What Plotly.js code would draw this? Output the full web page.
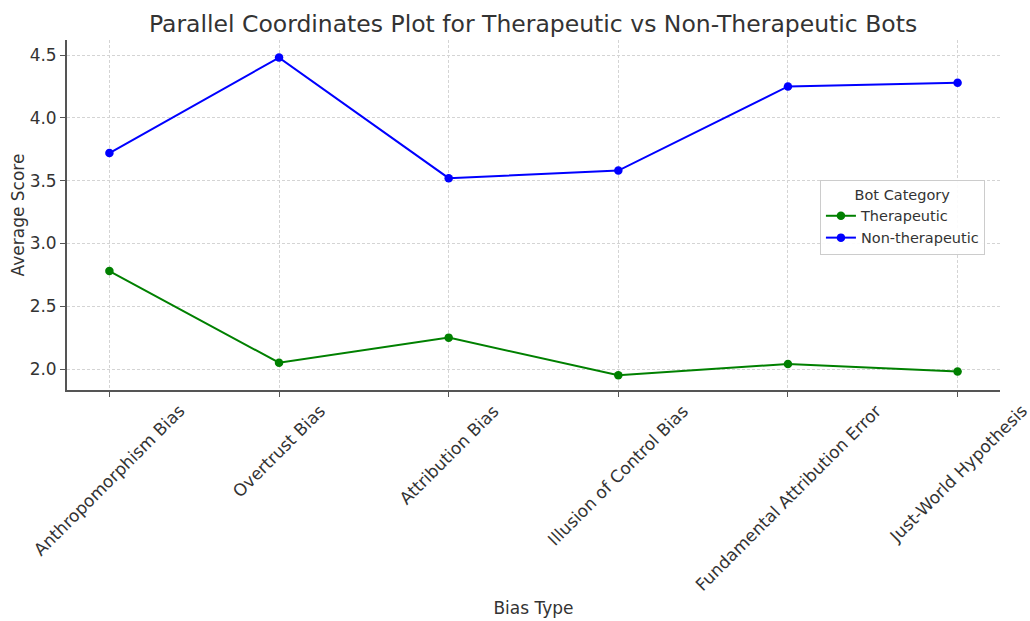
<!DOCTYPE html>
<html>
<head>
<meta charset="utf-8">
<script src="https://cdn.plot.ly/plotly-3.0.1.min.js"></script>
<style>html,body{margin:0;padding:0;background:#fff;}#chart{width:1030px;height:621px;}</style>
</head>
<body>
<div id="chart"></div>
<script>
const categories = ["Anthropomorphism Bias", "Overtrust Bias", "Attribution Bias", "Illusion of Control Bias", "Fundamental Attribution Error", "Just-World Hypothesis"];
const therapeutic = [2.78, 2.05, 2.25, 1.95, 2.04, 1.98];
const nonTherapeutic = [3.72, 4.48, 3.52, 3.58, 4.25, 4.28];
const seriesNames = ["Therapeutic", "Non-therapeutic"];
const yTicks = [2.0, 2.5, 3.0, 3.5, 4.0, 4.5];

const font = "DejaVu Sans, sans-serif";
const txt = "#333";
const traces = [
  {x: categories, y: therapeutic, name: seriesNames[0], type: "scatter", mode: "lines+markers",
   line: {color: "green", width: 2}, marker: {color: "green", size: 8.5}},
  {x: categories, y: nonTherapeutic, name: seriesNames[1], type: "scatter", mode: "lines+markers",
   line: {color: "blue", width: 2}, marker: {color: "blue", size: 8.5}}
];
// category labels drawn centered on their ticks, rotated 45 degrees
const labelAnnotations = categories.map(c => ({
  x: c, xref: "x", y: 0, yref: "paper", text: c, showarrow: false,
  textangle: -45, xanchor: "center", yanchor: "top", yshift: -8,
  font: {family: font, size: 17, color: txt}
}));
const layout = {
  width: 1030, height: 621,
  margin: {l: 67, r: 30, t: 40, b: 231},
  paper_bgcolor: "#fff", plot_bgcolor: "#fff",
  font: {family: font, color: txt, size: 17},
  title: {text: "Parallel Coordinates Plot for Therapeutic vs Non-Therapeutic Bots", font: {size: 23.5, color: txt},
          x: 0.5175, xanchor: "center", xref: "container", y: 0.961, yanchor: "middle", yref: "container"},
  xaxis: {
    type: "category", range: [-0.25, 5.25], showticklabels: false,
    showgrid: true, gridcolor: "#d4d4d4", griddash: "3px,2px", gridwidth: 1,
    showline: true, linecolor: "#555", linewidth: 1.8,
    ticks: "outside", ticklen: 5, tickcolor: "#555", tickwidth: 1, zeroline: false,
    title: {text: "Bias Type", font: {size: 17, color: txt}, standoff: 206}
  },
  yaxis: {
    range: [1.833, 4.62], tickvals: yTicks, ticktext: yTicks.map(v => v.toFixed(1)),
    tickfont: {size: 17, color: txt},
    showgrid: true, gridcolor: "#d4d4d4", griddash: "3px,2px", gridwidth: 1,
    showline: true, linecolor: "#555", linewidth: 1.8,
    ticks: "outside", ticklen: 5, tickcolor: "#555", tickwidth: 1, zeroline: false,
    title: {text: "Average Score", font: {size: 17, color: txt}, standoff: 1}
  },
  annotations: labelAnnotations,
  legend: {
    x: 0.807, y: 0.6, xanchor: "left", yanchor: "top",
    bordercolor: "#ccc", borderwidth: 1, bgcolor: "rgba(255,255,255,0.9)",
    font: {size: 14.5, color: txt},
    title: {text: "Bot Category", font: {size: 14.5, color: txt}, side: "top center"}
  },
  showlegend: true
};
Plotly.newPlot("chart", traces, layout, {displayModeBar: false});
</script>
</body>
</html>
